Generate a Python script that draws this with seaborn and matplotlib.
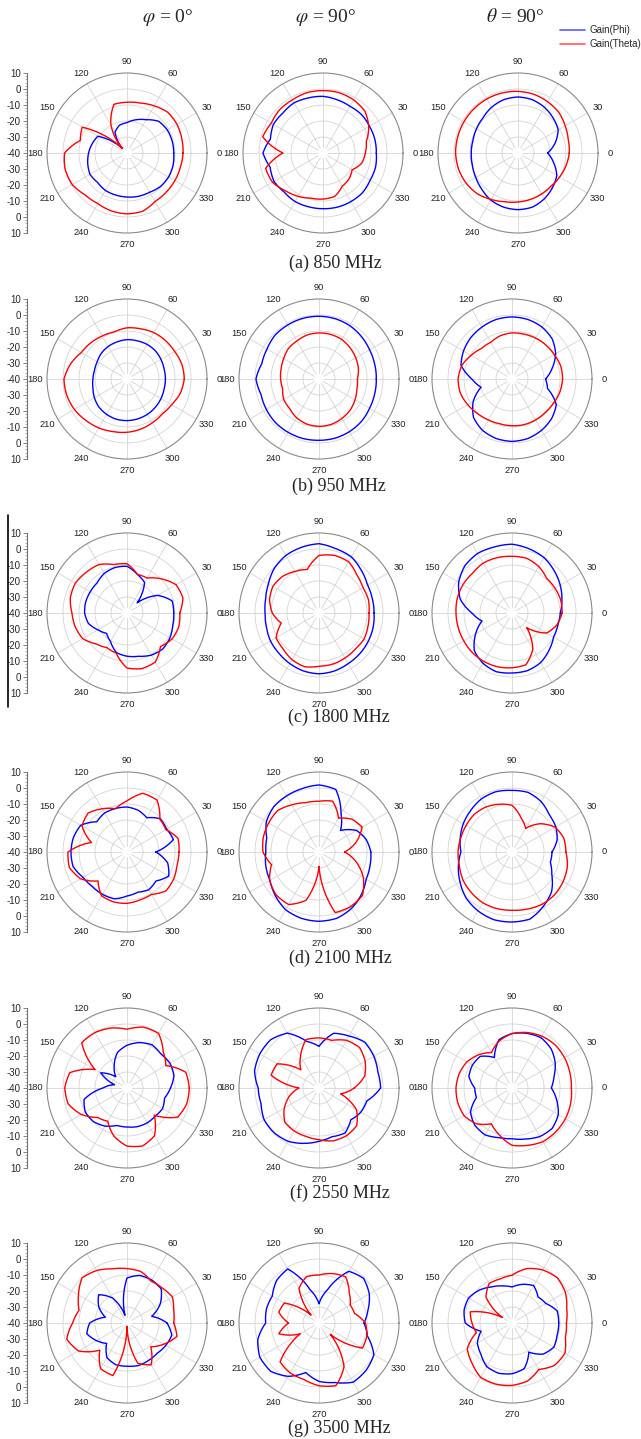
import numpy as np
import pandas as pd
import matplotlib
matplotlib.use("Agg")
import matplotlib.pyplot as plt
import seaborn as sns
from matplotlib.lines import Line2D
from matplotlib.ticker import AutoMinorLocator

# ---------------- data (gain in dB, sampled every 15 deg, 0..345) ----------------
ANGLES_DEG = list(range(0, 360, 15))
THETA_TICKS = list(range(0, 360, 30))
LEFT_TICK_LABELS = ["10", "0", "-10", "-20", "-30", "-40", "-30", "-20", "-10", "0", "10"]
COLUMN_TITLES = [r"$\varphi$ = 0°", r"$\varphi$ = 90°", r"$\theta$ = 90°"]
CAPTIONS = ["(a) 850 MHz", "(b) 950 MHz", "(c) 1800 MHz", "(d) 2100 MHz", "(f) 2550 MHz", "(g) 3500 MHz"]
SERIES = ["Gain(Phi)", "Gain(Theta)"]

# 850 MHz
f850_phi0_gphi = [-10.8, -10.8, -11, -12, -16, -18.5, -21, -22, -25, -36, -19, -17.5, -16, -14.6, -13.3, -14, -13, -12.8, -12.5, -12, -11.7, -10.4, -10, -10.2]
f850_phi0_gtheta = [-5, -4.6, -4, -4, -6, -7.7, -8.3, -8.5, -20, -36, -7.7, -9.8, -1, 0, -0.5, -3, -3.5, -2.5, -2, -2.3, -5, -5.4, -5.5, -5.5]
f850_phi90_gphi = [-6.7, -6.5, -6.5, -6, -6.3, -5.6, -4.6, -4.4, -3.8, -4.6, -4.2, -6, -2.5, -5.8, -4.6, -5.6, -5, -5.2, -5.2, -5, -5, -5, -6, -6]
f850_phi90_gtheta = [-13.5, -12, -7, -3, -1.7, -1, -1, -1, -1.7, -1.7, -2.7, -1, -15, -2.9, -3.5, -6.7, -8.75, -10.8, -11.2, -11.9, -16, -17, -19, -15]
f850_th90_gphi = [-21.5, -16, -11, -9, -7, -5.5, -5, -5.5, -7, -9, -10, -10.8, -10.8, -10.5, -9.5, -8, -6, -5, -4.6, -5, -7, -9.5, -12, -17]
f850_th90_gtheta = [-8, -7.5, -6, -4, -3, -2, -1.5, -1.2, -1, -1, -1, -1, -1, -1.5, -2.5, -4, -6.5, -8.5, -9.4, -10, -10.5, -10.8, -10, -9]

# 950 MHz
f950_phi0_gphi = [-16, -16, -15.5, -15, -15, -15.3, -15.4, -16, -16.5, -17.3, -18.5, -19, -18.7, -18, -16.5, -15.2, -14.5, -14, -14, -14.2, -14.5, -15, -15.5, -16]
f950_phi0_gtheta = [-4.2, -4.5, -5.6, -6, -6.5, -7.5, -8, -9.5, -9, -8, -7, -3.5, -0.6, -1, -2, -3.5, -4.7, -6, -6.7, -7.5, -8.4, -9, -7.8, -5.5]
f950_phi90_gphi = [-4.2, -4, -3.5, -2.5, -1.5, -1, -0.8, -0.8, -1, -1.2, -2.5, -3, -0.6, -2.5, -2, -1.5, -1.5, -1.5, -1.7, -1.7, -2, -2.5, -3.5, -4]
f950_phi90_gtheta = [-16, -14.5, -13.5, -12.5, -11.5, -11.2, -11.2, -11.5, -12.5, -13, -14.5, -15.5, -16, -16.5, -14.5, -14, -12, -10.8, -10.4, -10.6, -11.5, -12.5, -14, -15.5]
f950_th90_gphi = [-19, -14, -8.5, -4.5, -2.5, -1.5, -1.2, -1.5, -2.5, -3.5, -5, -7, -15, -20, -12, -6, -3, -1.5, -1, -1.5, -3, -5, -8, -17]
f950_th90_gtheta = [-8.4, -8.5, -9.5, -10, -10.5, -11, -11.2, -12, -13.5, -13, -10.5, -7.5, -6.3, -6.5, -8, -9.5, -10.5, -11, -10.8, -10.5, -10.5, -10.5, -10, -9]

# 1800 MHz
f1800_phi0_gphi = [-10.8, -10.8, -18, -31, -18, -15, -10.8, -10.6, -11.5, -13.5, -13.5, -13.3, -13.5, -15, -19, -22, -19.4, -14.4, -13, -12, -9.6, -8.3, -9, -10.4]
f1800_phi0_gtheta = [-7, -3.8, -4.6, -9.8, -14.8, -15, -9.2, -8.7, -5, -4, -2.7, -3.3, -5.6, -6.5, -8, -12.7, -15, -14, -5.6, -4, -4.6, -10.4, -7.5, -6.5]
f1800_phi90_gphi = [-5.6, -5.5, -5, -2.5, 0.5, 1.5, 3.3, 2.5, 1.5, -0.5, -3.5, -5.5, -6.3, -6, -5, -4.5, -3.5, -2.5, -2, -2.5, -3.5, -4, -4.5, -5]
f1800_phi90_gtheta = [-8.75, -8, -8.3, -6.5, -3, -2.7, -4, -11.8, -10, -7.7, -6.7, -8, -10.8, -15.6, -9, -8.3, -6.3, -5.2, -6.7, -6.9, -7.5, -8, -7.5, -8.3]
f1800_th90_gphi = [-9.8, -7.7, -5.2, -2.7, 0, 1.5, 3, 2.7, 3, 1.7, -1.5, -6.5, -15, -20.6, -13.7, -6.7, -3.7, -2, -2.5, -2.7, -4.2, -7.2, -10, -10.4]
f1800_th90_gtheta = [-8.7, -8.5, -9, -9.4, -6.5, -4.6, -4.6, -4.2, -4, -5, -4.6, -4.6, -5, -5.2, -5.2, -5, -5, -5.2, -5.8, -6.5, -14, -27, -15, -11]

# 2100 MHz
f2100_phi0_gphi = [-22, -10, -11.4, -10.6, -15.3, -13, -11.9, -11.9, -11.9, -13.3, -6.6, -5.3, -5, -5.1, -8.3, -9.4, -9.4, -9.7, -12.5, -14, -12.8, -14.4, -9.9, -13.7]
f2100_phi0_gtheta = [-7.5, -7, -12, -11, -2.5, -2, -8.1, -12, -8.8, -5.6, -7.5, -17, -3.1, -2.7, -6.5, -14.4, -8.3, -7.7, -7.9, -9, -9.4, -5.6, -6.3, -7.7]
f2100_phi90_gphi = [-7.6, -9.5, -13, -21, -12.5, 0.5, 1.9, 1, 0.5, 0, -2, -6.2, -6.8, -5.6, -4.6, -1.4, 1.7, 2.9, 3.3, 2.9, 0.7, -2.5, -6, -7]
f2100_phi90_gtheta = [-24, -15.9, -8.9, -11, -15.6, -7.1, -8.3, -8.1, -6, -3.4, -3.7, -4, -5, -9.3, -4.4, -2.1, -2.1, -8.8, -31, -0.8, -0.6, -1.6, -8, -15.9]
f2100_th90_gphi = [-15, -10.8, -8.4, -7.1, -3.6, -1.4, -1.5, -1, -1.7, -3.4, -4.8, -6.5, -8.1, -5.3, -2.5, 0.6, 2.5, 3.8, 3.75, 3.4, -0.8, -5, -11.3, -15.2]
f2100_th90_gtheta = [-6.3, -6.5, -8.9, -15, -23, -18, -10.8, -9.1, -7.5, -6.7, -6.9, -6.8, -6.3, -6, -4.7, -4.1, -3.4, -3.4, -3.6, -3.1, -2.3, -2.3, -3.1, -4.2]

# 2550 MHz
f2550_phi0_gphi = [-12.8, -9.6, -9, -10, -8.8, -10.6, -13.3, -17, -24, -30, -21, -32, -25, -12.2, -9.9, -10.3, -12.5, -15.8, -15.6, -15, -14.8, -15.1, -14.3, -15.7]
f2550_phi0_gtheta = [-1.1, -2, -12, -8, -0.6, -0.6, -3.3, -1.2, 0, 0, -17, -3, -1.1, -1.9, -7, -14, -16, -8.8, -3.7, -2.5, -5.6, -16, -3.5, -1.4]
f2550_phi90_gphi = [-1.5, -1.9, -0.4, 0.5, -2.5, -4.6, -14, -9.8, -0.4, 2.7, 2.7, 1.7, -2, -2.5, -0.4, -0.4, -1.5, -4.2, -6.7, -8.5, -7.5, -11.9, -9.8, -9]
f2550_phi90_gtheta = [-18, -10.4, -6.7, -4.2, -5.6, -9.2, -8.7, -8.7, -17, -24, -9.8, -9, -27.5, -21, -15, -9.8, -9, -8.7, -7.7, -5.8, -5.6, -6.7, -13, -26]
f2550_th90_gphi = [-15.4, -12.9, -8.8, -5.4, -3.7, -4.6, -6, -8.7, -18, -12, -11.4, -12.1, -16.7, -17, -10, -7.1, -6.2, -7.9, -8.3, -7, -5, -4.4, -6.6, -11.1]
f2550_th90_gtheta = [-2.9, -2.6, -2.1, -1.9, -2.6, -4.1, -6, -9.5, -14.4, -10.6, -7.4, -5.8, -5, -4.9, -5.4, -8.4, -14.2, -9.6, -4.2, -2.9, -1.3, -1.3, -1.5, -2.1]

# 3500 MHz
f3500_phi0_gphi = [-15, -24, -16, -9.8, -9, -9.2, -11.9, -35, -22, -15, -19.6, -26, -16.7, -14, -18, -22, -15, -13, -13, -12.5, -13, -13.3, -12, -11]
f3500_phi0_gtheta = [-10.8, -9.8, -7.3, -9, -9.8, -6.7, -6, -5, -2.1, -0.2, -5, -9, -6, -1, -5, -16, -7, -6, -38, -14, -9.8, -19, -13.5, -7.7]
f3500_phi90_gphi = [-11.9, -8.3, -3.7, -0.6, -2.7, -18, -28, -18.5, -1, -2.5, -6.3, -6, -6.7, -0.4, 2.7, 2.7, -1.5, -8, -3.5, -1.5, 2.7, 1.7, -0.4, -8.7]
f3500_phi90_gtheta = [-11, -17, -17.5, -13.3, -6.7, -8, -10, -10, -15, -33, -15, -14, -21, -14, -26.5, -5.6, -4, -3.5, -0.8, 0.6, -8.7, -30, -8.7, -9]
f3500_th90_gphi = [-10.8, -10.8, -15.6, -17, -13, -15, -17.5, -16, -14, -11, -8.7, -9, -10.8, -20, -15, -12.5, -8.5, -7.5, -8.3, -10.5, -19, -12.5, -9.8, -10.8]
f3500_th90_gtheta = [-6, -4.6, -1.5, 0, -1.7, -4.8, -10.2, -11.5, -11.5, -17, -33, -13, -15, -17, -7.7, -4.6, -0.8, -0.5, -1, -2.5, -6.5, -2.5, -1.9, -5.5]

PANELS = [
    [(f850_phi0_gphi, f850_phi0_gtheta), (f850_phi90_gphi, f850_phi90_gtheta), (f850_th90_gphi, f850_th90_gtheta)],
    [(f950_phi0_gphi, f950_phi0_gtheta), (f950_phi90_gphi, f950_phi90_gtheta), (f950_th90_gphi, f950_th90_gtheta)],
    [(f1800_phi0_gphi, f1800_phi0_gtheta), (f1800_phi90_gphi, f1800_phi90_gtheta), (f1800_th90_gphi, f1800_th90_gtheta)],
    [(f2100_phi0_gphi, f2100_phi0_gtheta), (f2100_phi90_gphi, f2100_phi90_gtheta), (f2100_th90_gphi, f2100_th90_gtheta)],
    [(f2550_phi0_gphi, f2550_phi0_gtheta), (f2550_phi90_gphi, f2550_phi90_gtheta), (f2550_th90_gphi, f2550_th90_gtheta)],
    [(f3500_phi0_gphi, f3500_phi0_gtheta), (f3500_phi90_gphi, f3500_phi90_gtheta), (f3500_th90_gphi, f3500_th90_gtheta)],
]

# ---------------- style / layout ----------------
sns.set_theme(style="white")
plt.rcParams["font.family"] = ["Liberation Sans", "DejaVu Sans"]
plt.rcParams["mathtext.fontset"] = "stix"

W, H = 641, 1439
R = 80
ROW_CY = [153, 379, 613, 852, 1088, 1323]
COL_CX = [[127, 323, 518]] + [[127, 319, 512]] * 5
CAPTION_XY = [(335, 263), (339, 486), (339, 717), (340, 958), (340, 1193), (339, 1428)]
TITLE_XY = [(168, 17), (326, 17), (515, 17)]
PALETTE = {"Gain(Phi)": "#0000ff", "Gain(Theta)": "#ff0000"}

fig = plt.figure(figsize=(W / 100, H / 100), dpi=100)
fig.patch.set_facecolor("white")


def polar_panel(cx, cy, gphi, gtheta):
    ax = fig.add_axes([(cx - R) / W, 1 - (cy + R) / H, 2 * R / W, 2 * R / H], projection="polar")
    theta = np.deg2rad(ANGLES_DEG + [360])
    df = pd.DataFrame({
        "theta": np.concatenate([theta, theta]),
        "gain": list(gphi) + [gphi[0]] + list(gtheta) + [gtheta[0]],
        "comp": [SERIES[0]] * (len(gphi) + 1) + [SERIES[1]] * (len(gtheta) + 1),
    })
    ax.set_axisbelow(True)
    ax.bar(0, 3.2, width=2 * np.pi, bottom=-40, color="white", zorder=1.5, linewidth=0)
    sns.lineplot(data=df, x="theta", y="gain", hue="comp", hue_order=SERIES, palette=PALETTE,
                 sort=False, estimator=None, legend=False, ax=ax, linewidth=1.0, zorder=3)
    # draw each segment as a smooth polar arc rather than a straight chord
    for ln in ax.lines:
        ln.get_path()._interpolation_steps = 24
    ax.set_ylim(-40, 10)
    ax.set_yticks([-30, -20, -10, 0])
    ax.set_yticklabels([])
    ax.set_xticks(np.deg2rad(THETA_TICKS))
    ax.set_xticklabels([str(a) for a in THETA_TICKS], fontsize=6.7, color="#222222")
    ax.tick_params(axis="x", length=0, pad=1.5)
    ax.grid(True, color="#d4d4d4", linewidth=0.6)
    ax.spines["polar"].set_color("#8a8a8a")
    ax.spines["polar"].set_linewidth(0.8)
    ax.set_xlabel("")
    ax.set_ylabel("")
    ax.set_facecolor("white")
    return ax


def left_scale(cy):
    lax = fig.add_axes([27 / W, 1 - (cy + R) / H, 0.3 / W, 2 * R / H])
    lax.set_ylim(-50, 50)
    lax.set_yticks(np.linspace(50, -50, len(LEFT_TICK_LABELS)))
    lax.set_yticklabels(LEFT_TICK_LABELS)
    lax.yaxis.set_minor_locator(AutoMinorLocator(5))
    lax.set_xticks([])
    for s in ["top", "right", "bottom"]:
        lax.spines[s].set_visible(False)
    lax.spines["left"].set_color("#707070")
    lax.spines["left"].set_linewidth(0.8)
    lax.tick_params(axis="y", which="major", direction="out", length=3, width=0.6,
                    color="#707070", labelsize=7, pad=1.5, left=True)
    lax.tick_params(axis="y", which="minor", direction="out", length=1.8, width=0.5,
                    color="#909090", left=True)
    lax.patch.set_alpha(0)


for i, row in enumerate(PANELS):
    cy = ROW_CY[i]
    for j, (gphi, gtheta) in enumerate(row):
        polar_panel(COL_CX[i][j], cy, gphi, gtheta)
    left_scale(cy)
    cxp, cyp = CAPTION_XY[i]
    fig.text(cxp / W, 1 - cyp / H, CAPTIONS[i], ha="center", va="center",
             family=["Liberation Serif", "DejaVu Serif"], fontsize=13)

for (tx, ty), title in zip(TITLE_XY, COLUMN_TITLES):
    fig.text(tx / W, 1 - ty / H, title, ha="center", va="center",
             family=["Liberation Serif", "DejaVu Serif"], fontsize=14)

handles = [Line2D([], [], color=PALETTE[s], lw=1.2, alpha=0.65) for s in SERIES]
fig.legend(handles, SERIES, loc="upper right", bbox_to_anchor=(1.0, 1 - 25 / H), frameon=False,
           fontsize=7, handlelength=2.6, handletextpad=0.4, labelspacing=0.45,
           borderpad=0, borderaxespad=0)

# scan artefact: vertical bar beside row (c)
fig.add_artist(Line2D([8 / W, 8 / W], [1 - 515 / H, 1 - 707 / H], color="black", lw=1.2))

fig.savefig("out.png", dpi=100, facecolor="white")
